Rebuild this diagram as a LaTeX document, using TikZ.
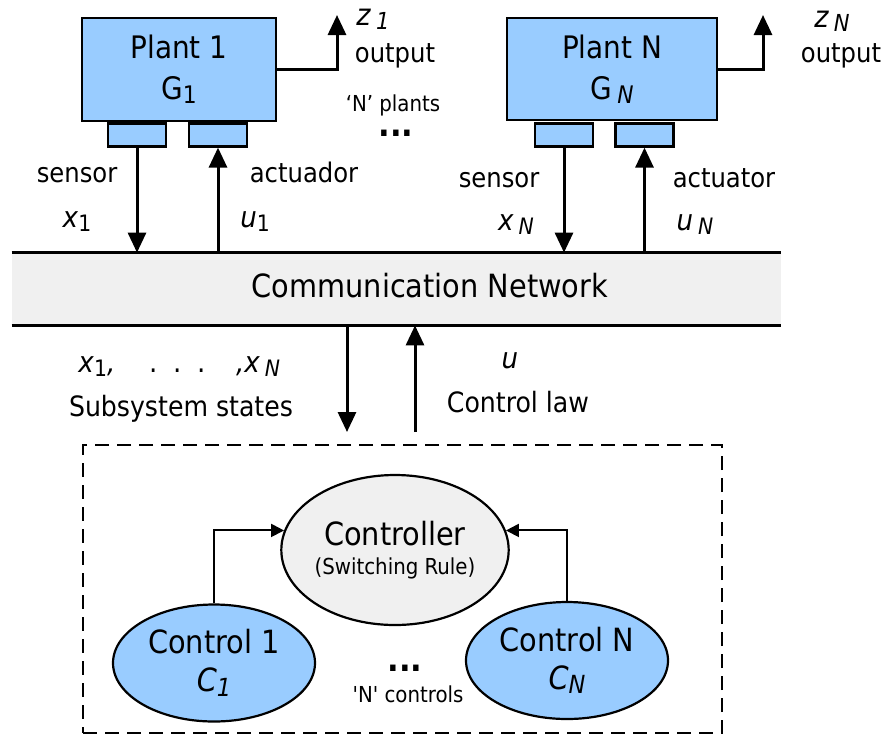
\documentclass[tikz,border=0pt]{standalone}
\usepackage{fontspec}
\setmainfont{DejaVu Sans Condensed}
\usetikzlibrary{arrows.meta,shapes.geometric}

\definecolor{plantblue}{RGB}{153,204,255}
\definecolor{netgray}{RGB}{240,240,240}

% lowered index at about three quarters of the text size
\newcommand{\idx}[1]{\raisebox{-0.14em}{\scalebox{0.78}{#1}}}

\begin{document}
\begin{tikzpicture}[x=0.5pt, y=-0.5pt,
    plantbox/.style={draw, line width=1.3pt, fill=plantblue, align=center,
      inner sep=0pt, font=\fontsize{15.5}{20.5}\selectfont},
    port/.style={draw, line width=1.3pt, fill=plantblue, inner sep=0pt,
      minimum width=29pt, minimum height=11.5pt, anchor=north},
    txt/.style={anchor=base, inner sep=0pt, font=\fontsize{13.5}{16}\selectfont},
    small/.style={txt, font=\fontsize{11}{13}\selectfont},
    bigdots/.style={txt, text height=4pt, text depth=0pt,
      font=\bfseries\fontsize{17}{20}\selectfont},
    bigarrow/.style={line width=1.5pt, -{Triangle[width=9pt,length=10pt]}},
    smallarrow/.style={line width=1pt, -{Triangle[width=6.5pt,length=6.5pt]}},
    ctrlnode/.style={ellipse, draw, line width=1.1pt, inner sep=0pt, align=center,
      font=\fontsize{16}{19}\selectfont},
  ]
  \useasboundingbox (0,0) rectangle (888,735);

  % plants with their sensor / actuator ports
  \node[plantbox, minimum width=97pt, minimum height=51.5pt] (plant1) at (179,69.5) {Plant 1\\G\idx{1}};
  \node[plantbox, minimum width=105pt, minimum height=51pt] (plantN) at (612,69) {Plant N\\G\,\idx{\textit{N}}};
  \node[port] (sens1) at (137,122) {};
  \node[port] (act1) at (218,122) {};
  \node[port] (sensN) at (564,122) {};
  \node[port] (actN) at (644.5,122) {};

  % network bus
  \node[fill=netgray, minimum width=384.5pt, minimum height=36pt, inner sep=0pt] (net) at (396.5,289) {};
  \draw[line width=1.5pt] (net.north west) -- (net.north east);
  \draw[line width=1.5pt] (net.south west) -- (net.south east);
  \node[txt, font=\fontsize{16}{19}\selectfont] (nettxt) at (430,297) {Communication Network};

  % plant <-> network
  \draw[bigarrow] (sens1.south) -- (sens1.south |- net.north);
  \draw[bigarrow] (act1.south |- net.north) -- (act1.south);
  \draw[bigarrow] (sensN.south) -- (sensN.south |- net.north);
  \draw[bigarrow] (actN.south |- net.north) -- (actN.south);

  % outputs
  \coordinate (z1) at (337,15);
  \coordinate (zN) at (763,15);
  \draw[bigarrow] (plant1.east) -| (z1);
  \draw[bigarrow] (plantN.east) -| (zN);

  \node[txt, font=\fontsize{15}{18}\selectfont] (z1txt) at (373,25) {\textit{z}\,\idx{\textit{1}}};
  \node[txt] (out1) at (395,62) {output};
  \node[small] (nplants) at (393,111) {‘N’ plants};
  \node[bigdots] (pdots) at (396,136) {...};
  \node[txt, font=\fontsize{15}{18}\selectfont] (zNtxt) at (832,27) {\textit{z}\,\idx{\textit{N}}};
  \node[txt] (outN) at (841,62) {output};

  \node[txt] (sens1txt) at (77,182) {sensor};
  \node[txt, font=\fontsize{14.5}{17}\selectfont] (x1txt) at (77,227) {\textit{x}\idx{1}};
  \node[txt] (act1txt) at (304,182) {actuador};
  \node[txt, font=\fontsize{14.5}{17}\selectfont] (u1txt) at (255,227) {\textit{u}\idx{1}};
  \node[txt] (sensNtxt) at (499,187) {sensor};
  \node[txt, font=\fontsize{14.5}{17}\selectfont] (xNtxt) at (516,230) {\textit{x}\,\idx{\textit{N}}};
  \node[txt] (actNtxt) at (724,187) {actuator};
  \node[txt, font=\fontsize{14.5}{17}\selectfont] (uNtxt) at (695,230) {\textit{u}\,\idx{\textit{N}}};

  % network <-> controller
  \coordinate (dn) at (347,432);
  \coordinate (up) at (415,432);
  \draw[bigarrow] (dn |- net.south) -- (dn);
  \draw[bigarrow] (up) -- (up |- net.south);

  \node[txt, anchor=base west, font=\fontsize{14.5}{17}\selectfont] (xstxt) at (78,372) {\textit{x}\idx{1}\textit{,}\hspace{17pt}.\hspace{8pt}.\hspace{8pt}.\hspace{15pt}\textit{,}\textit{x}\,\idx{\textit{N}}};
  \node[txt, font=\fontsize{14}{17}\selectfont] (statetxt) at (181,416) {Subsystem states};
  \node[txt, font=\fontsize{14.5}{17}\selectfont] (utxt) at (510,368) {\textit{u}};
  \node[txt, font=\fontsize{14}{17}\selectfont] (lawtxt) at (518,412) {Control law};

  % switching controller
  \node[draw, line width=1pt, dash pattern=on 7pt off 4pt, inner sep=0pt,
    minimum width=319.5pt, minimum height=144pt] (ctrlbox) at (402.5,589) {};
  \node[ctrlnode, fill=netgray, minimum width=101pt, minimum height=75pt,
    font=\fontsize{16}{14.5}\selectfont] (ctrl) at (395,550) {Controller\\{\fontsize{11}{13}\selectfont(Switching Rule)}};
  \node[ctrlnode, fill=plantblue, minimum width=101pt, minimum height=58.5pt] (c1) at (214,663) {Control 1\\\textit{C}\idx{\textit{1}}};
  \node[ctrlnode, fill=plantblue, minimum width=101pt, minimum height=58.5pt] (cN) at (567,660.5) {Control N\\\textit{C}\idx{\textit{N}}};
  \draw[smallarrow] (c1.north) |- (ctrl.170);
  \draw[smallarrow] (cN.north) |- (ctrl.10);

  \node[bigdots] (cdots) at (405,671) {...};
  \node[small] (nctrl) at (408,702) {\textquotesingle N\textquotesingle{} controls};
\end{tikzpicture}
\end{document}
